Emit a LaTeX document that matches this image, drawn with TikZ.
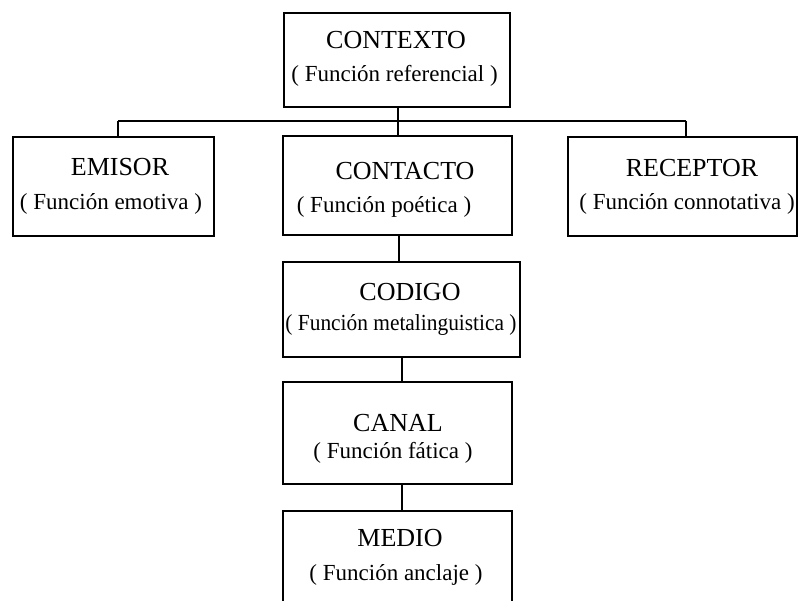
\documentclass[tikz,border=0pt]{standalone}
\usepackage{fontspec}
\setmainfont{Liberation Serif}
\begin{document}
\begin{tikzpicture}[x=1pt,y=-1pt,
  box/.style={draw=black, line width=1.7pt, rectangle, inner sep=0pt},
  ttl/.style={inner sep=0pt, font=\fontsize{26}{28}\selectfont},
  sub/.style={inner sep=0pt, font=\fontsize{23}{25}\selectfont},
  conn/.style={draw=black, line width=1.7pt}]
\useasboundingbox (0,0) rectangle (800,601);
\clip (0,0) rectangle (800,601);
\fill[white] (0,0) rectangle (800,601);
% boxes
\node[box, minimum width=226pt, minimum height=94pt] (contexto) at (397,60) {};
\node[box, minimum width=201pt, minimum height=99pt] (emisor) at (113.5,186.5) {};
\node[box, minimum width=229pt, minimum height=99pt] (contacto) at (397.5,185.5) {};
\node[box, minimum width=229pt, minimum height=99pt] (receptor) at (682.5,186.5) {};
\node[box, minimum width=237pt, minimum height=95pt] (codigo) at (401.5,309.5) {};
\node[box, minimum width=229pt, minimum height=102pt] (canal) at (397.5,433) {};
\node[box, minimum width=229pt, minimum height=110pt] (medio) at (397.5,566) {};
% texts
\node[ttl] (contexto-t) at (396,40) {CONTEXTO};
\node[sub] (contexto-s) at (394.5,76) {( Función referencial )};
\node[ttl] (emisor-t) at (120,167) {EMISOR};
\node[sub] (emisor-s) at (111,204) {( Función emotiva )};
\node[ttl] (contacto-t) at (405,171) {CONTACTO};
\node[sub] (contacto-s) at (384,207) {( Función poética )};
\node[ttl] (receptor-t) at (692,168) {RECEPTOR};
\node[sub] (receptor-s) at (687,204) {( Función connotativa )};
\node[ttl] (codigo-t) at (410,292) {CODIGO};
\node[sub, xscale=0.93, transform shape] (codigo-s) at (401,325) {( Función metalinguistica )};
\node[ttl] (canal-t) at (398,423) {CANAL};
\node[sub] (canal-s) at (393,453) {( Función fática )};
\node[ttl] (medio-t) at (400,538) {MEDIO};
\node[sub] (medio-s) at (396,575) {( Función anclaje )};
% connectors
\coordinate (barL) at (118,121);
\coordinate (barR) at (686,121);
\coordinate (barM) at (398,121);
\draw[conn] (contexto.south -| barM) -- (barM);
\draw[conn] (barL) -- (barR);
\draw[conn] (barL) -- (barL |- emisor.north);
\draw[conn] (barR) -- (barR |- receptor.north);
\draw[conn] (barM) -- (barM |- contacto.north);
\draw[conn] (contacto.south -| 399,0) -- (codigo.north -| 399,0);
\draw[conn] (codigo.south -| 402,0) -- (canal.north -| 402,0);
\draw[conn] (canal.south -| 402,0) -- (medio.north -| 402,0);
\end{tikzpicture}
\end{document}
